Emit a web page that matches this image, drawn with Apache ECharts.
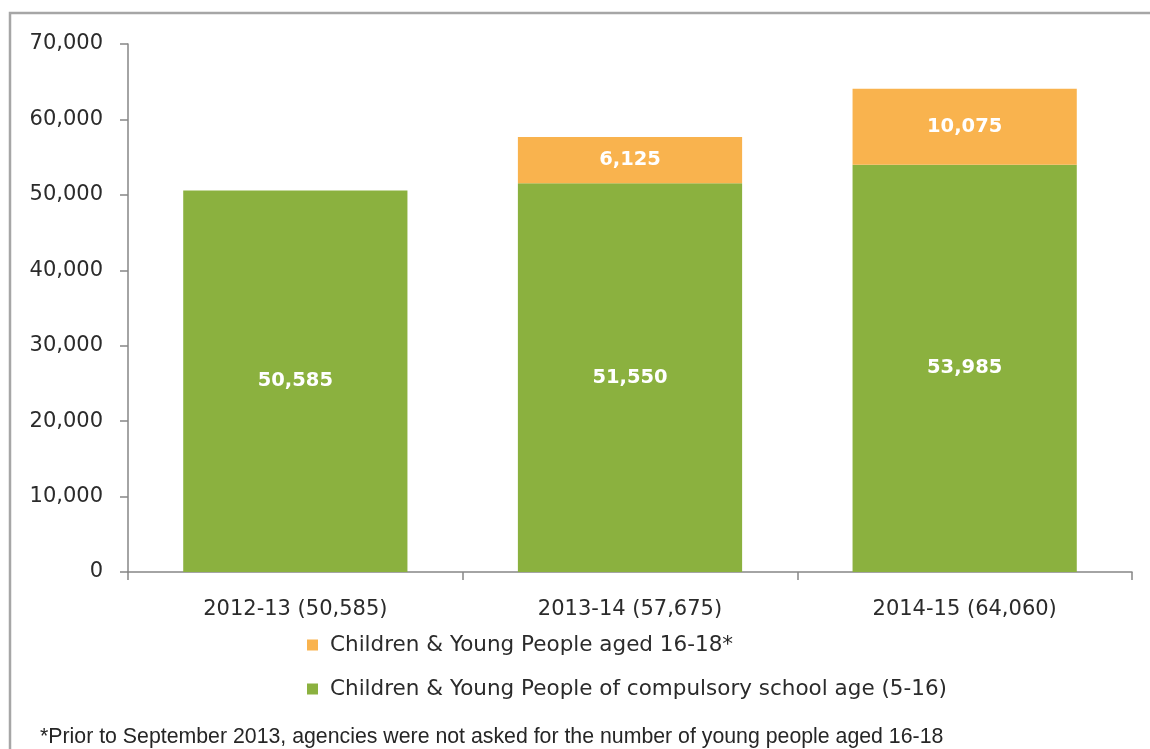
<!DOCTYPE html>
<html>
<head>
<meta charset="utf-8">
<script src="https://cdn.jsdelivr.net/npm/echarts@6/dist/echarts.min.js"></script>
<style>
html,body{margin:0;padding:0;background:#fff;}
#chart{width:1150px;height:749px;}
</style>
</head>
<body>
<div id="chart"></div>
<script>
var categories = ['2012-13 (50,585)', '2013-14 (57,675)', '2014-15 (64,060)'];
var compulsoryName = 'Children & Young People of compulsory school age (5-16)';
var olderName = 'Children & Young People aged 16-18*';
var compulsoryValues = [50585, 51550, 53985];
var olderValues = [null, 6125, 10075];
var yTicks = [0, 10000, 20000, 30000, 40000, 50000, 60000, 70000];
var footnote = '*Prior to September 2013, agencies were not asked for the number of young people aged 16-18';

var fmt = function (v) { return v == null ? '' : v.toLocaleString('en-US'); };
var FONT = 'DejaVu Sans';
var TXT = '#2b2b2b';
var AXIS = '#868686';

var chart = echarts.init(document.getElementById('chart'), null, {renderer: 'canvas'});
chart.setOption({
  animation: false,
  backgroundColor: '#ffffff',
  grid: {left: 128, right: 18, top: 44, bottom: 177, containLabel: false},
  legend: {
    data: [olderName, compulsoryName],
    orient: 'vertical',
    left: 302,
    top: 628,
    itemWidth: 11,
    itemHeight: 11,
    itemGap: 20,
    icon: 'rect',
    textStyle: {fontFamily: FONT, fontSize: 21.5, color: TXT, padding: [0, 0, 0, 7], lineHeight: 24}
  },
  xAxis: {
    type: 'category',
    data: categories,
    axisLine: {show: true, lineStyle: {color: AXIS, width: 1.5}},
    axisTick: {show: true, length: 8, lineStyle: {color: AXIS, width: 1.5}},
    axisLabel: {fontFamily: FONT, fontSize: 21, color: TXT, margin: 27}
  },
  yAxis: {
    type: 'value',
    min: yTicks[0],
    max: yTicks[yTicks.length - 1],
    interval: yTicks[1] - yTicks[0],
    splitLine: {show: false},
    axisLine: {show: true, lineStyle: {color: AXIS, width: 1.5}},
    axisTick: {show: true, length: 8, lineStyle: {color: AXIS, width: 1.5}},
    axisLabel: {fontFamily: FONT, fontSize: 21, color: TXT, margin: 25, formatter: fmt}
  },
  series: [
    {
      name: compulsoryName,
      type: 'bar',
      stack: 'total',
      data: compulsoryValues,
      barCategoryGap: '33%',
      itemStyle: {color: '#8BB13F'},
      label: {show: true, position: 'inside', color: '#ffffff', fontFamily: FONT, fontWeight: 'bold', fontSize: 19.5, formatter: function (p) { return fmt(p.value); }}
    },
    {
      name: olderName,
      type: 'bar',
      stack: 'total',
      data: olderValues,
      barCategoryGap: '33%',
      itemStyle: {color: '#F9B34E'},
      label: {show: true, position: 'inside', color: '#ffffff', fontFamily: FONT, fontWeight: 'bold', fontSize: 19.5, formatter: function (p) { return fmt(p.value); }}
    }
  ],
  graphic: [
    {
      type: 'polyline',
      silent: true,
      shape: {points: [[10, 760], [10, 13], [1160, 13]]},
      style: {stroke: '#a6a6a6', lineWidth: 2.5, fill: null}
    },
    {
      type: 'text',
      left: 40,
      top: 727,
      style: {text: footnote, fontFamily: 'Liberation Sans', fontSize: 21.3, fill: '#262626'}
    }
  ]
});
</script>
</body>
</html>
